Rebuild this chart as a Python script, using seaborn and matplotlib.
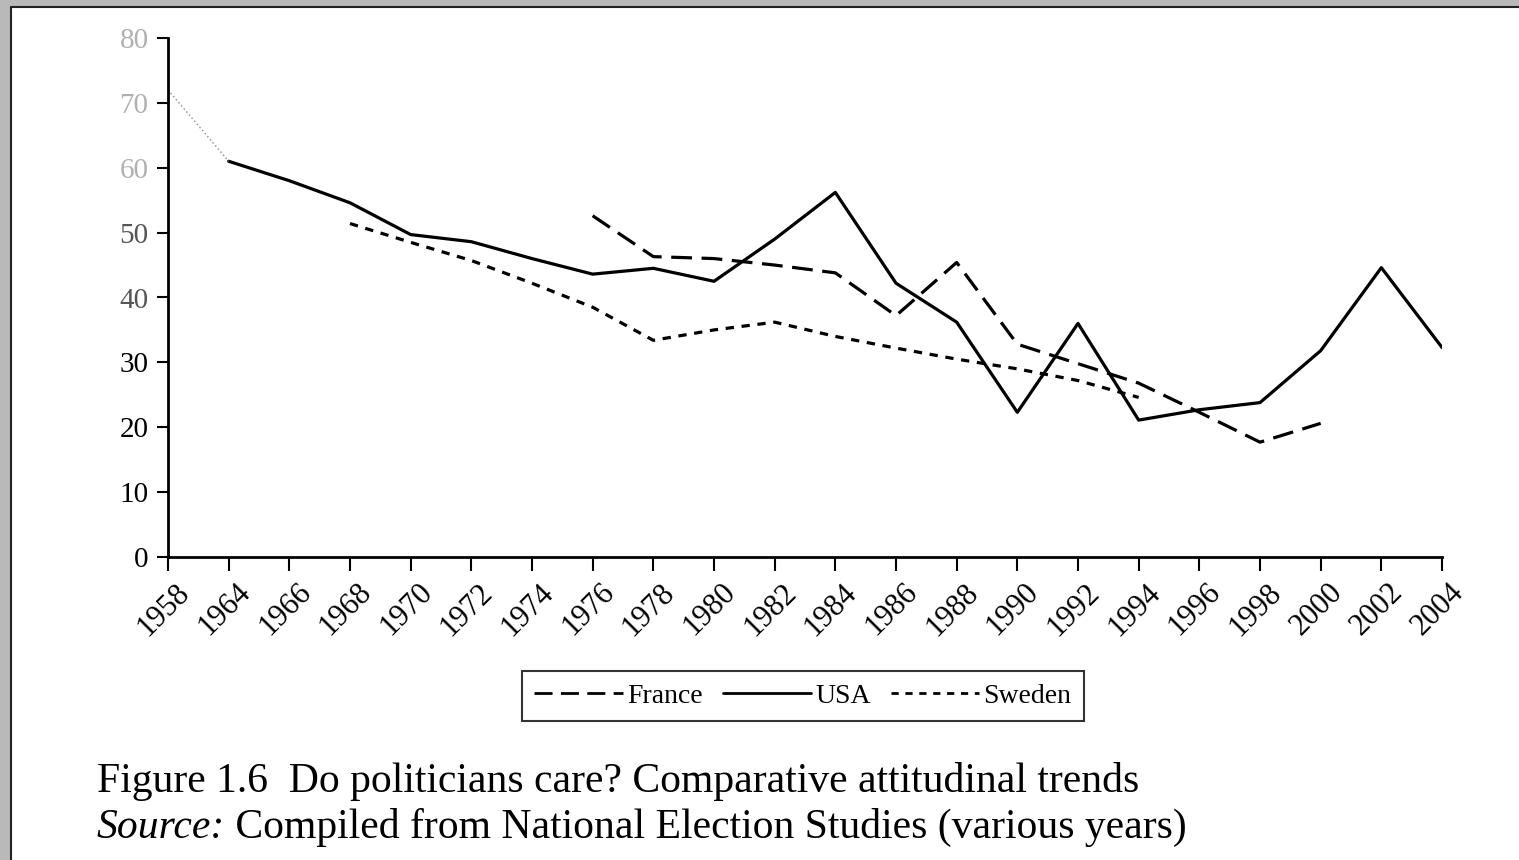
import matplotlib
matplotlib.use("Agg")
import matplotlib.pyplot as plt
import matplotlib.transforms as mtrans
from matplotlib.patches import Rectangle
from matplotlib.lines import Line2D
import seaborn as sns
import pandas as pd

# values (percent)
years = ['1958', '1964', '1966', '1968', '1970', '1972', '1974', '1976', '1978', '1980', '1982',
         '1984', '1986', '1988', '1990', '1992', '1994', '1996', '1998', '2000', '2002', '2004']

usa_years = years
usa = [72, 61, 58, 54.6, 49.7, 48.6, 46, 43.6, 44.5, 42.5, 49, 56.2,
       42.2, 36.2, 22.3, 36, 21.1, 22.7, 23.8, 31.8, 44.6, 32.3]

france_years = ['1976', '1978', '1980', '1982', '1984', '1986', '1988', '1990', '1992', '1994',
                '1996', '1998', '2000']
france = [52.6, 46.3, 46, 45, 43.8, 37.2, 45.4, 32.8, 29.8, 26.8, 22.3, 17.7, 20.6]

sweden_years = ['1968', '1970', '1972', '1974', '1976', '1978', '1980', '1982', '1984', '1986',
                '1988', '1990', '1992', '1994']
sweden = [51.4, 48.5, 45.7, 42.2, 38.5, 33.4, 35, 36.2, 34, 32.2, 30.5, 29, 27.2, 24.6]

yticks = [0, 10, 20, 30, 40, 50, 60, 70, 80]

pos = {y: i for i, y in enumerate(years)}
frames = []
for name, yrs, vals in [('France', france_years, france), ('USA', usa_years, usa),
                        ('Sweden', sweden_years, sweden)]:
    d = pd.DataFrame({'year': yrs, 'value': vals})
    d['country'] = name
    frames.append(d)
df = pd.concat(frames, ignore_index=True)
df['x'] = df['year'].map(pos)

# first USA segment is barely printed in the scan
faded = df[(df.country == 'USA') & (df.year.isin(['1958', '1964']))]
main = df[~((df.country == 'USA') & (df.year == '1958'))]

sns.set_style("white")
plt.rcParams['font.family'] = ['Liberation Serif', 'DejaVu Serif']
plt.rcParams['text.color'] = 'black'
plt.rcParams['xtick.color'] = 'black'
plt.rcParams['ytick.color'] = 'black'

fig = plt.figure(figsize=(15.19, 8.6), dpi=100, facecolor='#b9b9b9')
# scanned page: white sheet with a dark edge top and left
fig.patches.append(Rectangle((11 / 1519, 0), 1 - 11 / 1519, 1 - 7 / 860, transform=fig.transFigure,
                             facecolor='white', edgecolor='none', zorder=-10))
fig.add_artist(Line2D([10.5 / 1519, 10.5 / 1519], [0, 1 - 6.5 / 860], color='#222222', lw=1.5))
fig.add_artist(Line2D([10.5 / 1519, 1], [1 - 6.5 / 860, 1 - 6.5 / 860], color='#222222', lw=1.5))

ax = fig.add_axes([168 / 1519, 1 - 557 / 860, (1442 - 168) / 1519, (557 - 38) / 860])
ax.set_facecolor('none')

dashes = {'France': (6.5, 3), 'USA': '', 'Sweden': (2.6, 2.4)}
sns.lineplot(data=main, x='x', y='value', style='country', dashes=dashes,
             style_order=['France', 'USA', 'Sweden'], color='black', lw=2.3,
             legend=False, ax=ax, sort=False)
sns.lineplot(data=faded, x='x', y='value', color='#9a9a9a', lw=1.1, ls=':',
             legend=False, ax=ax)

ax.set_xlim(0, len(years) - 1)
ax.set_ylim(0, 80)
ax.set_xticks(range(len(years)))
ax.set_xticklabels(years, rotation=45, ha='right', va='top', rotation_mode='anchor')
ax.set_yticks(yticks)
ax.set_yticklabels([str(v) for v in yticks])
ax.set_xlabel('')
ax.set_ylabel('')
for lab, v in zip(ax.get_yticklabels(), yticks):
    if v >= 60:
        lab.set_color('#b0b0b0')
    elif v >= 40:
        lab.set_color('#555555')

sns.despine(ax=ax)
for s in ['left', 'bottom']:
    ax.spines[s].set_linewidth(2)
    ax.spines[s].set_color('black')
ax.tick_params(axis='both', direction='out', length=8, width=1.5, color='black',
               left=True, bottom=True)
ax.tick_params(axis='y', pad=6, labelsize=21)
ax.tick_params(axis='x', pad=5, length=10, labelsize=22)
# scanned labels sit a little right of their ticks
shift = mtrans.ScaledTranslation(7 / 100, 0, fig.dpi_scale_trans)
for lab in ax.get_xticklabels():
    lab.set_transform(lab.get_transform() + shift)

handles = [Line2D([], [], color='black', lw=2, dashes=(6.5, 3)),
           Line2D([], [], color='black', lw=2),
           Line2D([], [], color='black', lw=2, dashes=(2.6, 2.4))]
leg = fig.legend(handles, ['France', 'USA', 'Sweden'], ncol=3, loc='center',
                 bbox_to_anchor=(803 / 1519, 1 - 696 / 860), frameon=True, fancybox=False,
                 fontsize=20, handlelength=3.2, handletextpad=0.15, columnspacing=0.7,
                 borderpad=0.45, borderaxespad=0)
leg.get_frame().set_edgecolor('black')
leg.get_frame().set_linewidth(1.5)

fig.text(97 / 1519, 1 - 792 / 860, 'Figure 1.6  Do politicians care? Comparative attitudinal trends',
         fontsize=30, ha='left', va='baseline')
src = fig.text(97 / 1519, 1 - 838 / 860, 'Source:', fontsize=30, style='italic',
               ha='left', va='baseline')
fig.add_artist(matplotlib.text.Annotation(' Compiled from National Election Studies (various years)',
                                          xy=(1, 0), xycoords=src, fontsize=30,
                                          ha='left', va='bottom', annotation_clip=False))

fig.savefig('out.png', dpi=100, facecolor=fig.get_facecolor())
